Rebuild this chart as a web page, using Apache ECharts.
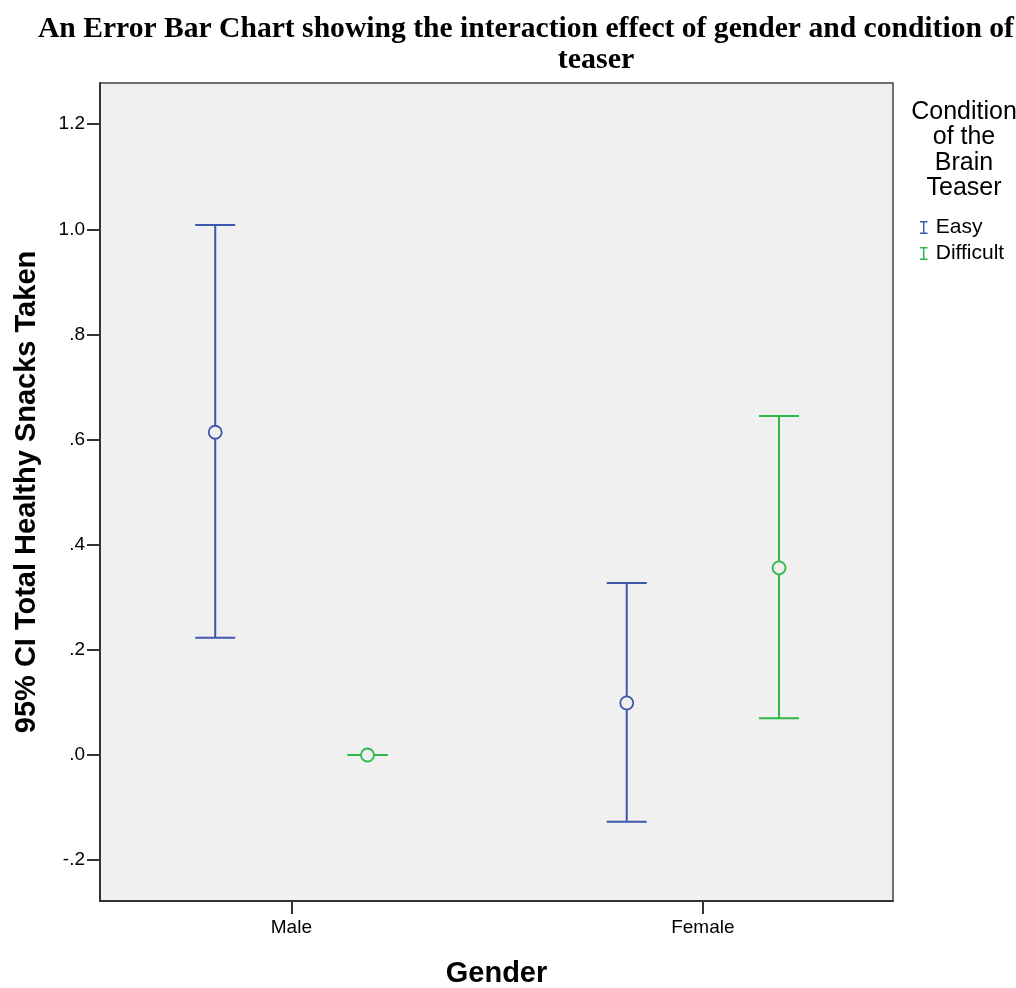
<!DOCTYPE html>
<html lang="en">
  <head>
    <meta charset="UTF-8" />
    <title>Error Bar Chart</title>
    <script src="https://cdn.jsdelivr.net/npm/echarts@6.0.0/dist/echarts.min.js"></script>
    <style>
      html, body { margin: 0; padding: 0; background: #fff; }
    </style>
  </head>
  <body>
    <div id="main" style="width: 1016px; height: 988px"></div>
    <script type="text/javascript">
      // values
      const genders = ["Male", "Female"];
      const conditions = ["Easy", "Difficult"];
      const easyMean = [0.614, 0.099];
      const easyLow = [0.223, -0.127];
      const easyHigh = [1.008, 0.327];
      const diffMean = [0.0, 0.356];
      const diffLow = [0.0, 0.070];
      const diffHigh = [0.0, 0.645];
      const yTicks = [-0.2, 0, 0.2, 0.4, 0.6, 0.8, 1.0, 1.2];

      const blue = "#3E58AC";
      const green = "#2EB848";
      const offset = 0.185; // horizontal dodge of the two conditions

      // gender i sits at x = i + 1
      function points(mean, low, high, dx) {
        return mean.map((m, i) => [i + 1 + dx, m, low[i], high[i]]);
      }
      const easyPts = points(easyMean, easyLow, easyHigh, -offset);
      const diffPts = points(diffMean, diffLow, diffHigh, offset);

      function errorBar(color) {
        return function (params, api) {
          const x = api.value(0);
          const lo = api.coord([x, api.value(2)]);
          const hi = api.coord([x, api.value(3)]);
          const half = 20;
          const style = { stroke: color, lineWidth: 2 };
          return {
            type: "group",
            children: [
              { type: "line", shape: { x1: lo[0], y1: lo[1], x2: hi[0], y2: hi[1] }, style: style },
              { type: "line", shape: { x1: lo[0] - half, y1: lo[1], x2: lo[0] + half, y2: lo[1] }, style: style },
              { type: "line", shape: { x1: hi[0] - half, y1: hi[1], x2: hi[0] + half, y2: hi[1] }, style: style },
            ],
          };
        };
      }

      const barIcon = "path://M0,0h8v1.6h-8z M3.2,0h1.6v14h-1.6z M0,12.4h8v1.6h-8z";
      const yFmt = (v) => {
        let s = Number(v).toFixed(1);
        return s.replace(/^0\./, ".").replace(/^-0\./, "-.");
      };

      let myChart = echarts.init(document.getElementById("main"));
      let options = {
        animation: false,
        backgroundColor: "#fff",
        title: [
          {
            text: "An Error Bar Chart showing the interaction effect of gender and condition of",
            left: 33,
            top: 9,
            textStyle: { fontFamily: "Liberation Serif", fontWeight: "bold", fontSize: 29.6, color: "#000" },
          },
          {
            text: "teaser",
            left: 591,
            textAlign: "center",
            top: 40,
            textStyle: { fontFamily: "Liberation Serif", fontWeight: "bold", fontSize: 30, color: "#000" },
          },
          {
            text: "Condition\nof the\nBrain\nTeaser",
            left: 959,
            textAlign: "center",
            top: 94,
            textStyle: {
              fontFamily: "Liberation Sans",
              fontWeight: "normal",
              fontSize: 25,
              lineHeight: 25.5,
              color: "#000",
            },
          },
        ],
        legend: {
          orient: "vertical",
          left: 915,
          top: 212,
          itemWidth: 8,
          itemHeight: 13,
          itemGap: 5,
          data: [
            { name: conditions[0], icon: barIcon, itemStyle: { color: blue } },
            { name: conditions[1], icon: barIcon, itemStyle: { color: green } },
          ],
          textStyle: { fontFamily: "Liberation Sans", fontSize: 21, color: "#000", padding: [0, 0, 0, 3] },
        },
        grid: {
          left: 100,
          right: 123,
          top: 83,
          bottom: 87,
          outerBoundsMode: "none",
          containLabel: false,
          show: true,
          backgroundColor: "#F0F0F0",
          borderColor: "#444",
          borderWidth: 1.5,
        },
        xAxis: {
          type: "value",
          min: 0.535,
          max: 2.462,
          splitLine: { show: false },
          axisLine: { show: true, onZero: false, lineStyle: { color: "#333", width: 2 } },
          axisTick: { show: true, customValues: [1, 2], length: 13, lineStyle: { color: "#333", width: 2 } },
          axisLabel: {
            customValues: [1, 2],
            formatter: (v) => genders[Math.round(v) - 1],
            fontFamily: "Liberation Sans",
            fontSize: 19,
            color: "#000",
            margin: 17,
          },
          name: "Gender",
          nameLocation: "middle",
          nameGap: 58,
          nameTextStyle: { fontFamily: "Liberation Sans", fontWeight: "bold", fontSize: 29, color: "#000" },
        },
        yAxis: {
          type: "value",
          min: -0.2777,
          max: 1.2783,
          splitLine: { show: false },
          axisLine: { show: true, onZero: false, lineStyle: { color: "#333", width: 2 } },
          axisTick: { show: true, customValues: yTicks, length: 13, lineStyle: { color: "#333", width: 2 } },
          axisLabel: {
            customValues: yTicks,
            formatter: yFmt,
            fontFamily: "Liberation Sans",
            fontSize: 19,
            color: "#000",
            margin: 15,
          },
          name: "95% CI Total Healthy Snacks Taken",
          nameLocation: "middle",
          nameRotate: 90,
          nameGap: 59,
          nameTextStyle: { fontFamily: "Liberation Sans", fontWeight: "bold", fontSize: 29, color: "#000" },
        },
        series: [
          {
            name: conditions[0],
            type: "custom",
            renderItem: errorBar(blue),
            data: easyPts,
            itemStyle: { color: blue },
            z: 2,
          },
          {
            name: conditions[1],
            type: "custom",
            renderItem: errorBar(green),
            data: diffPts,
            itemStyle: { color: green },
            z: 2,
          },
          {
            name: conditions[0],
            type: "scatter",
            data: easyPts.map((p) => [p[0], p[1]]),
            symbol: "circle",
            symbolSize: 13,
            itemStyle: { color: "#F0F0F0", borderColor: blue, borderWidth: 1.8, opacity: 1 },
            z: 3,
          },
          {
            name: conditions[1],
            type: "scatter",
            data: diffPts.map((p) => [p[0], p[1]]),
            symbol: "circle",
            symbolSize: 13,
            itemStyle: { color: "#F0F0F0", borderColor: green, borderWidth: 1.8, opacity: 1 },
            z: 3,
          },
        ],
      };
      myChart.setOption(options);
    </script>
  </body>
</html>
